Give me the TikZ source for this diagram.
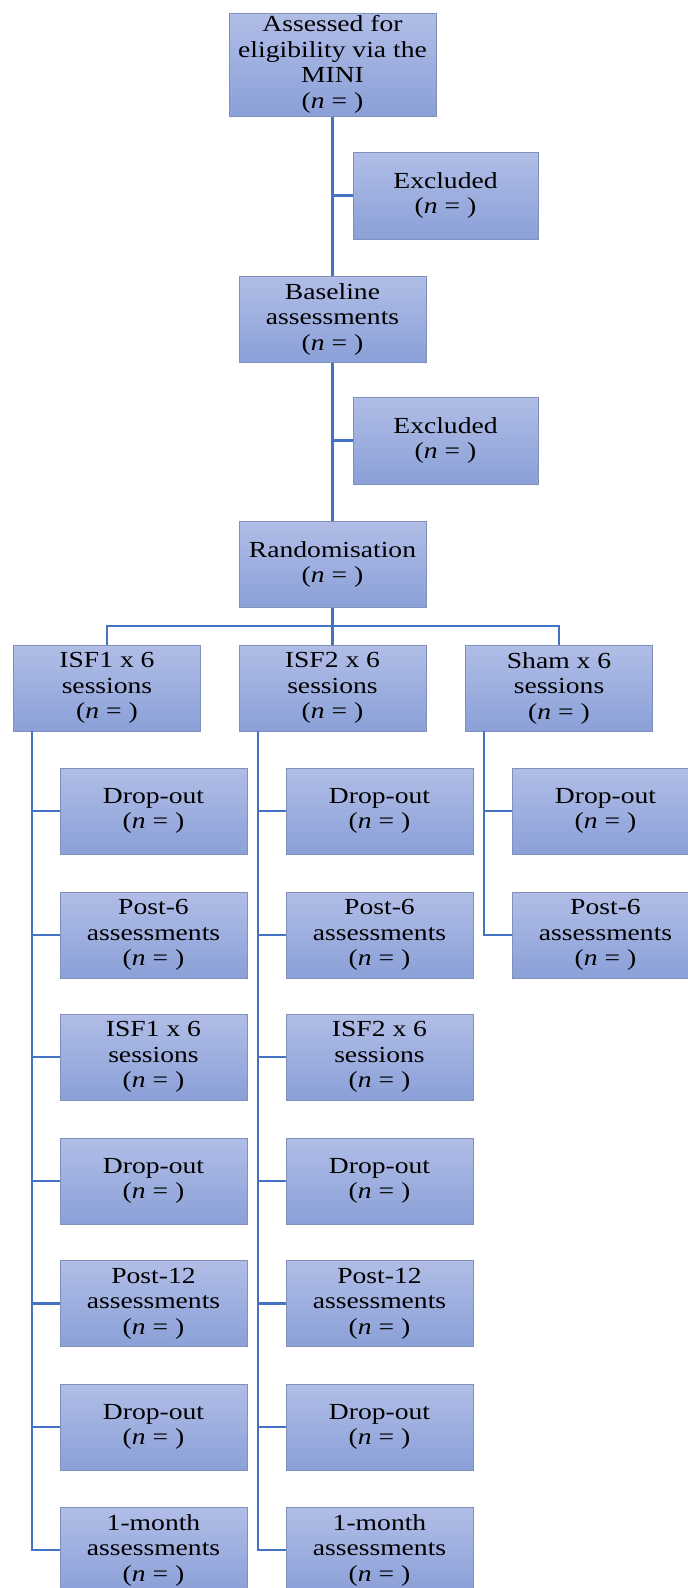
\documentclass[tikz,border=0pt]{standalone}
\usepackage{fontspec}
\setmainfont{Liberation Serif}[FakeStretch=1.2]
\definecolor{boxtop}{HTML}{B0BDE6}
\definecolor{boxbot}{HTML}{8BA0D8}
\definecolor{boxline}{HTML}{8090BA}
\definecolor{conncol}{HTML}{4472C4}
\tikzset{
  box/.style={draw=boxline, line width=1pt, top color=boxtop, bottom color=boxbot,
    align=center, inner sep=1pt, minimum width=187pt, minimum height=86pt,
    font=\fontsize{23}{25.5}\selectfont},
  conn/.style={draw=conncol, line width=2.8pt}
}
\newcommand{\nn}{(\textit{n} = )}
\begin{document}
\begin{tikzpicture}[x=1pt,y=1pt]
\useasboundingbox (0,0) rectangle (688,-1588);
\clip (0,0) rectangle (688,-1588);
% main column
\node[box, minimum width=207pt, minimum height=103pt] (top) at (332.5,-64.5) {Assessed for\\eligibility via the\\MINI\\\nn};
\node[box, minimum width=185pt, minimum height=87pt] (ex1) at (445.5,-195.5) {Excluded\\\nn};
\node[box] (base) at (332.5,-319) {Baseline\\assessments\\\nn};
\node[box, minimum width=185pt, minimum height=87pt] (ex2) at (445.5,-440.5) {Excluded\\\nn};
\node[box] (rand) at (332.5,-564.5) {Randomisation\\\nn};
% arms
\node[box] (a1) at (107,-688) {ISF1 x 6\\sessions\\\nn};
\node[box] (a2) at (332.5,-688) {ISF2 x 6\\sessions\\\nn};
\node[box] (a3) at (559,-688) {Sham x 6\\sessions\\\nn};
% column 1 children
\node[box] (p1) at (153.5,-811) {Drop-out\\\nn};
\node[box] (p2) at (153.5,-935) {Post-6\\assessments\\\nn};
\node[box] (p3) at (153.5,-1057) {ISF1 x 6\\sessions\\\nn};
\node[box] (p4) at (153.5,-1181) {Drop-out\\\nn};
\node[box] (p5) at (153.5,-1303.5) {Post-12\\assessments\\\nn};
\node[box] (p6) at (153.5,-1427) {Drop-out\\\nn};
\node[box] (p7) at (153.5,-1550) {1-month\\assessments\\\nn};
% column 2 children
\node[box] (q1) at (379.5,-811) {Drop-out\\\nn};
\node[box] (q2) at (379.5,-935) {Post-6\\assessments\\\nn};
\node[box] (q3) at (379.5,-1057) {ISF2 x 6\\sessions\\\nn};
\node[box] (q4) at (379.5,-1181) {Drop-out\\\nn};
\node[box] (q5) at (379.5,-1303.5) {Post-12\\assessments\\\nn};
\node[box] (q6) at (379.5,-1427) {Drop-out\\\nn};
\node[box] (q7) at (379.5,-1550) {1-month\\assessments\\\nn};
% column 3 children
\node[box] (r1) at (605.5,-811) {Drop-out\\\nn};
\node[box] (r2) at (605.5,-935) {Post-6\\assessments\\\nn};
% connectors main column
\draw[conn] (top.south) -- (base.north);
\draw[conn] (ex1.west) -- (ex1.west -| top.south);
\draw[conn] (base.south) -- (rand.north);
\draw[conn] (ex2.west) -- (ex2.west -| base.south);
\coordinate (br) at (332.5,-626);
\draw[conn] (rand.south) -- (br);
\draw[conn] (a1.north) |- (br) -| (a3.north);
\draw[conn] (br) -- (a2.north);
% column verticals
\coordinate (v1) at (32,-731);
\coordinate (v2) at (258,-731);
\coordinate (v3) at (484,-731);
\draw[conn] (v1) |- (p7.west);
\foreach \k in {1,...,6} {\draw[conn] (v1 |- p\k.west) -- (p\k.west);}
\draw[conn] (v2) |- (q7.west);
\foreach \k in {1,...,6} {\draw[conn] (v2 |- q\k.west) -- (q\k.west);}
\draw[conn] (v3) |- (r2.west);
\draw[conn] (v3 |- r1.west) -- (r1.west);
\end{tikzpicture}
\end{document}
